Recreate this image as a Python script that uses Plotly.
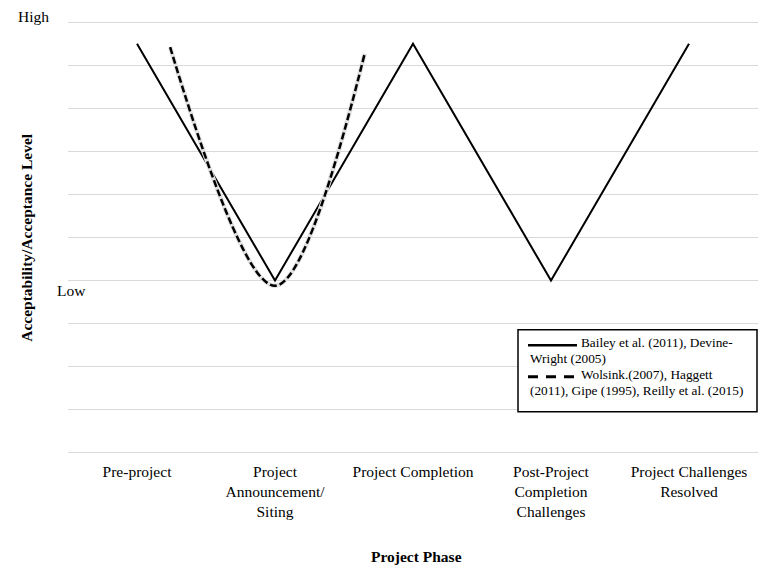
import plotly.graph_objects as go

# ---- data ----
phases = ["Pre-project", "Project<br>Announcement/<br>Siting", "Project Completion",
          "Post-Project<br>Completion<br>Challenges", "Project Challenges<br>Resolved"]
phase_pos = [0, 1, 2, 3, 4]
solid_y = [9.5, 4.0, 9.5, 4.0, 9.5]
dashed_x = [0.24, 1.0, 1.65]
dashed_y = [9.42, 3.88, 9.27]
grid_vals = list(range(0, 11))
solid_name = "Bailey et al. (2011), Devine-Wright (2005)"
dashed_name = "Wolsink.(2007), Haggett (2011), Gipe (1995), Reilly et al. (2015)"

W, H = 760, 567
FONT = "Liberation Serif"
# plot area in pixels for the value range [0, 10]
PL, PR, PT, PB = 68, 758, 22.5, 453
PAD = 0.05  # small range padding so edge gridlines are drawn
unit = (PB - PT) / 10.0
T = PT - PAD * unit
B = H - (PB + PAD * unit)
L, R = PL, W - PR

def px(x):
    return (x - L) / (W - L - R)

def py(y):
    return (H - B - y) / (H - T - B)

fig = go.Figure()
fig.add_trace(go.Scatter(x=phase_pos, y=solid_y, mode="lines", name=solid_name,
                         line=dict(color="black", width=2), showlegend=False))
fig.add_trace(go.Scatter(x=dashed_x, y=dashed_y, mode="lines", hoverinfo="skip",
                         line=dict(color="#e2e2e2", width=4.5, shape="spline", smoothing=1),
                         showlegend=False))
fig.add_trace(go.Scatter(x=dashed_x, y=dashed_y, mode="lines", name=dashed_name,
                         line=dict(color="black", width=2.5, dash="7px,3px", shape="spline", smoothing=1),
                         showlegend=False))

# legend box (manual, to reproduce wrapped text)
fig.add_shape(type="rect", xref="paper", yref="paper", x0=px(518), x1=px(757), y0=py(412), y1=py(330),
              line=dict(color="black", width=1.5), fillcolor="white", layer="above")
fig.add_shape(type="line", xref="paper", yref="paper", x0=px(528), x1=px(577), y0=py(345.5), y1=py(345.5),
              line=dict(color="black", width=2.5), layer="above")
fig.add_shape(type="line", xref="paper", yref="paper", x0=px(528), x1=px(577), y0=py(377), y1=py(377),
              line=dict(color="black", width=3, dash="10px,8px"), layer="above")

leg_lines = [
    (579, 343, "Bailey et al. (2011), Devine-"),
    (528, 359, "Wright (2005)"),
    (579, 375, "Wolsink.(2007), Haggett"),
    (528, 391, "(2011), Gipe (1995), Reilly et al. (2015)"),
]
for x, y, t in leg_lines:
    fig.add_annotation(text=t, xref="paper", yref="paper", x=px(x), y=py(y), xanchor="left",
                       yanchor="middle", showarrow=False, font=dict(family=FONT, size=13.3, color="black"))

fig.add_annotation(text="High", xref="paper", yref="paper", x=px(33), y=py(17), xanchor="center",
                   yanchor="middle", showarrow=False, font=dict(family=FONT, size=15.5, color="black"))
fig.add_annotation(text="Low", xref="paper", yref="paper", x=px(71), y=py(291), xanchor="center",
                   yanchor="middle", showarrow=False, font=dict(family=FONT, size=15.5, color="black"))
fig.add_annotation(text="<b>Project Phase</b>", xref="paper", yref="paper", x=px(416), y=py(557),
                   xanchor="center", yanchor="middle", showarrow=False,
                   font=dict(family=FONT, size=15.5, color="black"))
fig.add_annotation(text="<b>Acceptability/Acceptance Level</b>", xref="paper", yref="paper", x=px(27),
                   y=py(238), xanchor="center", yanchor="middle", textangle=-90, showarrow=False,
                   font=dict(family=FONT, size=15.5, color="black"))

fig.update_layout(
    width=W, height=H, margin=dict(l=L, r=R, t=T, b=B, pad=0),
    paper_bgcolor="white", plot_bgcolor="white",
    font=dict(family=FONT, size=15.5, color="black"),
    xaxis=dict(range=[-0.5, 4.5], tickvals=phase_pos, ticktext=phases, showgrid=False,
               zeroline=False, showline=False, ticks="", tickfont=dict(size=15.5),
               ticklabelstandoff=5),
    yaxis=dict(range=[-PAD, 10 + PAD], tickvals=grid_vals, showticklabels=False, showgrid=True,
               gridcolor="#d9d9d9", gridwidth=1.3, zeroline=False, showline=False, ticks=""),
    showlegend=False,
)
fig.write_html("out.html", config={"displayModeBar": False},
               post_script="document.body.style.margin='0';")
